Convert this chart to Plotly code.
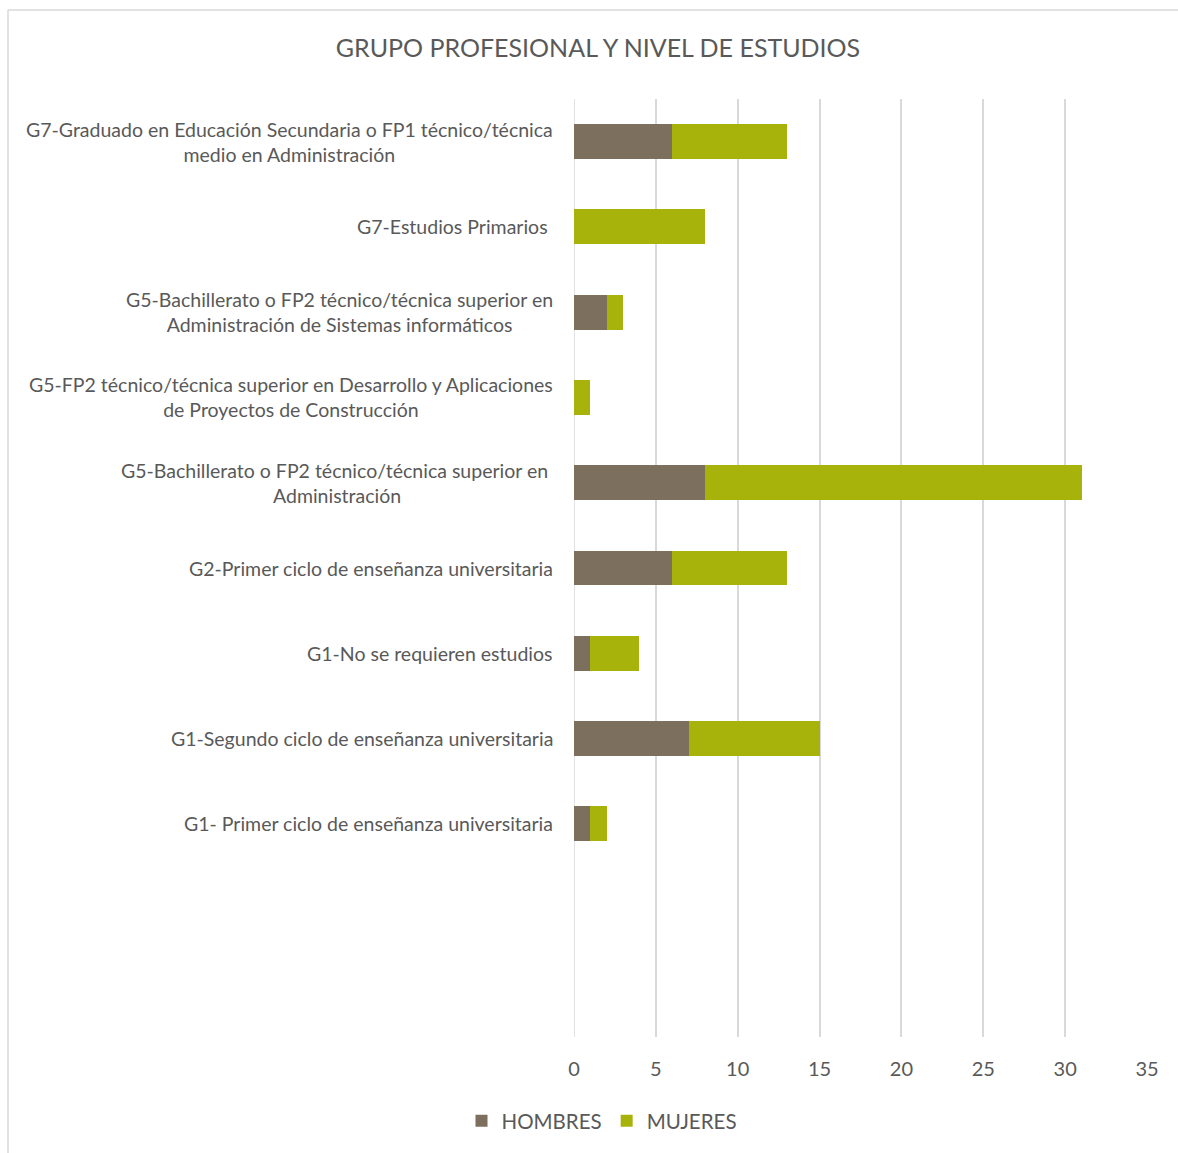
import plotly.graph_objects as go

categorias = [
    "G7-Graduado en Educación Secundaria o FP1 técnico/técnica<br>medio en Administración",
    "G7-Estudios Primarios ",
    "G5-Bachillerato o FP2 técnico/técnica superior en<br>Administración de Sistemas informáticos",
    "G5-FP2 técnico/técnica superior en Desarrollo y Aplicaciones<br>de Proyectos de Construcción",
    "G5-Bachillerato o FP2 técnico/técnica superior en <br>Administración",
    "G2-Primer ciclo de enseñanza universitaria",
    "G1-No se requieren estudios",
    "G1-Segundo ciclo de enseñanza universitaria",
    "G1- Primer ciclo de enseñanza universitaria",
]
hombres = [6, 0, 2, 0, 8, 6, 1, 7, 1]
mujeres = [7, 8, 1, 1, 23, 7, 3, 8, 1]
x_ticks = [0, 5, 10, 15, 20, 25, 30, 35]

C_H = "#7C6F5E"
C_M = "#A7B30A"
TXT = "#595959"
GRID = "#D9D9D9"
FONT = "Lato, Open Sans, sans-serif"

fig = go.Figure()
fig.add_trace(go.Bar(y=categorias, x=hombres, name="HOMBRES", orientation="h",
                     marker=dict(color=C_H, line=dict(width=0))))
fig.add_trace(go.Bar(y=categorias, x=mujeres, name="MUJERES", orientation="h",
                     marker=dict(color=C_M, line=dict(width=0))))

for c in categorias:
    fig.add_annotation(x=0, xref="paper", y=c, yref="y", text=c, showarrow=False,
                       xanchor="right", align="center", xshift=-19,
                       font=dict(family=FONT, size=19.5, color=TXT))

W, H = 1178, 1153
L, R, T, B = 574, 31, 99, 116
pw = W - L - R
ph = H - T - B
# border (decoration)
fig.add_shape(type="line", xref="paper", yref="paper",
              x0=(8 - L) / pw, x1=(W - L) / pw, y0=(H - B - 10) / ph, y1=(H - B - 10) / ph,
              line=dict(color=GRID, width=1.5))
fig.add_shape(type="line", xref="paper", yref="paper",
              x0=(8 - L) / pw, x1=(8 - L) / pw, y0=(H - B - 10) / ph, y1=(H - B - H) / ph,
              line=dict(color=GRID, width=1.5))

fig.update_layout(
    width=W, height=H,
    margin=dict(l=L, r=R, t=T, b=B),
    barmode="stack", bargap=0.59,
    plot_bgcolor="white", paper_bgcolor="white",
    title=dict(text="GRUPO PROFESIONAL Y NIVEL DE ESTUDIOS", x=598 / W, xanchor="center",
               y=1 - 48 / H, yanchor="middle",
               font=dict(family=FONT, size=25, color=TXT)),
    font=dict(family=FONT, color=TXT),
    xaxis=dict(range=[0, 35], tickvals=x_ticks, showgrid=True, gridcolor=GRID, gridwidth=1.5,
               zeroline=False, showline=False, ticks="", ticklabelstandoff=18,
               tickfont=dict(family=FONT, size=20, color=TXT)),
    yaxis=dict(type="category", categoryarray=categorias, range=[10.5, -0.5],
               showticklabels=False, showgrid=False, zeroline=False, showline=False, ticks=""),
    legend=dict(orientation="h", x=602 / W, xanchor="center", xref="container",
                y=1 - 1121 / H, yref="container", yanchor="middle",
                font=dict(family=FONT, size=20.5, color=TXT), itemwidth=30,
                traceorder="normal"),
    showlegend=True,
)
fig.add_shape(type="line", xref="x", yref="paper", x0=0, x1=0, y0=0, y1=1,
              line=dict(color=GRID, width=1.5), layer="below")

fig.write_html("out.html", config={"displayModeBar": False},
               post_script="document.body.style.margin='0';")
